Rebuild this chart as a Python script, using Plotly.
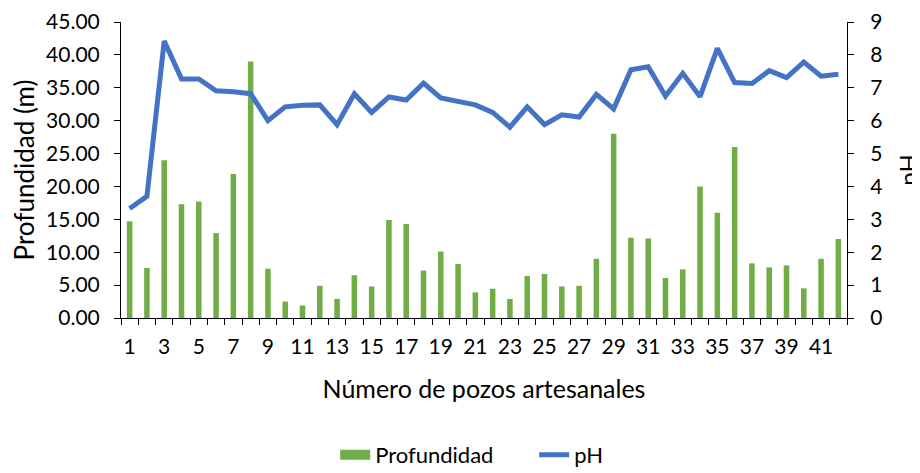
import plotly.graph_objects as go

# Datos
pozos = list(range(1, 43))
profundidad = [14.7, 7.6, 24.0, 17.3, 17.7, 12.9, 21.9, 39.0, 7.5, 2.5,
               1.9, 4.9, 2.9, 6.5, 4.8, 14.9, 14.3, 7.2, 10.1, 8.2,
               3.9, 4.45, 2.9, 6.4, 6.7, 4.8, 4.9, 9.0, 28.0, 12.2,
               12.1, 6.1, 7.4, 20.0, 16.0, 26.0, 8.3, 7.7, 8.0, 4.5,
               9.0, 12.0]
ph = [3.33, 3.7, 8.42, 7.27, 7.27, 6.91, 6.88, 6.82, 6.0, 6.42,
      6.47, 6.48, 5.88, 6.82, 6.25, 6.72, 6.63, 7.14, 6.69, 6.6,
      6.48, 6.25, 5.8, 6.42, 5.88, 6.18, 6.11, 6.8, 6.36, 7.55,
      7.64, 6.75, 7.44, 6.73, 8.2, 7.16, 7.13, 7.52, 7.31, 7.78,
      7.35, 7.41]
tick_labels = [str(n) for n in range(1, 43, 2)]

FONT = "Lato"
GREEN = "#70AD47"
BLUE = "#4472C4"

fig = go.Figure()
fig.add_trace(go.Bar(
    x=pozos, y=profundidad, name="Profundidad",
    marker_color=GREEN, marker_line_width=0, showlegend=False,
))
fig.add_trace(go.Scatter(
    x=pozos, y=ph, name="pH", yaxis="y2", mode="lines",
    line=dict(color=BLUE, width=5), showlegend=False,
))
# legend entries (wide swatches like the original)
fig.add_trace(go.Scatter(
    x=[None], y=[None], name="Profundidad", mode="lines",
    line=dict(color=GREEN, width=12),
))
fig.add_trace(go.Scatter(
    x=[None], y=[None], name="pH", mode="lines",
    line=dict(color=BLUE, width=5),
))

# page body has an 8px margin, so the figure is shifted by 8px
fig.update_layout(
    width=920, height=473,
    plot_bgcolor="white", paper_bgcolor="white",
    font=dict(family=FONT, size=21, color="#000000"),
    margin=dict(l=113, r=81, t=14, b=163, autoexpand=False),
    bargap=0.68,
    showlegend=True,
    legend=dict(orientation="h", x=0.295, y=-0.392, xanchor="left", yanchor="top",
                font=dict(size=22), entrywidth=154, entrywidthmode="pixels",
                traceorder="normal"),
    xaxis=dict(
        range=[0.5, 42.5], tickmode="array",
        tickvals=list(range(1, 43, 2)), ticktext=tick_labels,
        ticks="", ticklabelstandoff=10, automargin=False,
        showline=True, linecolor="#000000", linewidth=1,
        showgrid=False, zeroline=False,
        minor=dict(tick0=0.5, dtick=1, ticks="outside", ticklen=6,
                   tickcolor="#000000", showgrid=False),
        title=dict(text="Número de pozos artesanales", font=dict(size=25), standoff=23),
    ),
    yaxis=dict(
        range=[0, 45], dtick=5, tickformat=".2f", automargin=False,
        ticks="outside", ticklen=6, tickcolor="#000000", ticklabelstandoff=10,
        showline=True, linecolor="#000000", linewidth=1,
        showgrid=False, zeroline=False,
        title=dict(text="Profundidad (m)", font=dict(size=26), standoff=18),
    ),
    yaxis2=dict(
        range=[0, 9], dtick=1, overlaying="y", side="right", automargin=False,
        ticks="outside", ticklen=6, tickcolor="#000000", ticklabelstandoff=12,
        showline=True, linecolor="#000000", linewidth=1,
        showgrid=False, zeroline=False,
        title=dict(text="pH", font=dict(size=24), standoff=18),
    ),
)

fig.write_html("out.html")
